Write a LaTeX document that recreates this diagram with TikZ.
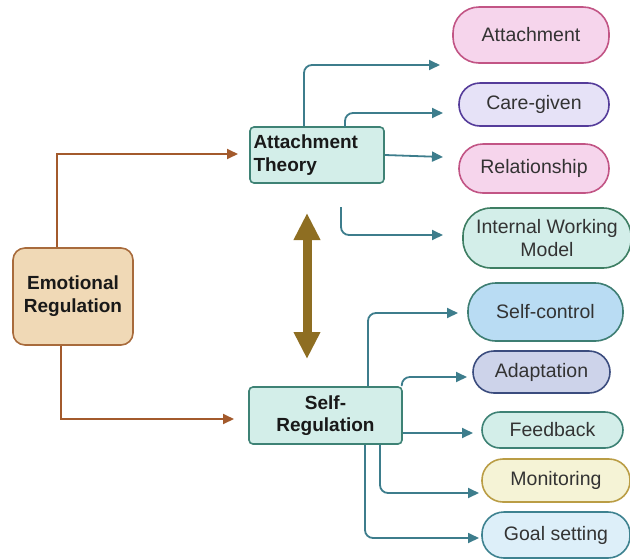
\documentclass[tikz,border=0pt]{standalone}
\usepackage{fontspec}
\setmainfont{Liberation Sans}
\usetikzlibrary{arrows.meta}
\definecolor{tealarr}{HTML}{3D7D8C}
\definecolor{brownarr}{HTML}{A35A2C}
\definecolor{olivearr}{HTML}{8E6E22}
\definecolor{emofill}{HTML}{F0D9B6}
\definecolor{emodraw}{HTML}{A86B3C}
\definecolor{tfill}{HTML}{D3EEE9}
\definecolor{tdraw}{HTML}{3E8275}
\definecolor{pinkfill}{HTML}{F6D5EC}
\definecolor{pinkdraw}{HTML}{C25585}
\definecolor{lavfill}{HTML}{E6E2F7}
\definecolor{lavdraw}{HTML}{553C9A}
\definecolor{iwmdraw}{HTML}{3E7E63}
\definecolor{scfill}{HTML}{B9DCF3}
\definecolor{scdraw}{HTML}{3E7E73}
\definecolor{adfill}{HTML}{CDD3EA}
\definecolor{addraw}{HTML}{3B4C7E}
\definecolor{monfill}{HTML}{F5F3D6}
\definecolor{mondraw}{HTML}{BA9D45}
\definecolor{goalfill}{HTML}{DDEFF9}
\definecolor{goaldraw}{HTML}{3E8290}
\definecolor{txt}{HTML}{333333}
\tikzset{
  mainbox/.style={draw, line width=1.6pt, rounded corners=4pt, inner sep=0pt, font=\bfseries\fontsize{19}{22}\selectfont, text=black!90},
  pill/.style={draw, line width=1.6pt, inner sep=0pt, font=\fontsize{19.5}{24}\selectfont, text=txt, align=center},
  tl/.style={draw=tealarr, line width=1.8pt, rounded corners=8pt, -{Triangle[length=11pt,width=10pt]}},
  bl/.style={draw=brownarr, line width=1.8pt, -{Triangle[length=11pt,width=10pt]}},
}
\begin{document}
\begin{tikzpicture}[x=1pt,y=-1pt]
\useasboundingbox (0,0) rectangle (630,558);
% main boxes
\node[mainbox, fill=emofill, draw=emodraw, rounded corners=12pt, minimum width=120pt, minimum height=97pt, align=center] (emo) at (73,296.5) {Emotional\\[1pt]Regulation};
\node[mainbox, fill=tfill, draw=tdraw, minimum width=134pt, minimum height=56pt, align=left, text width=127pt] (at) at (317,155) {Attachment\\[1.5pt]Theory};
\node[mainbox, fill=tfill, draw=tdraw, minimum width=153pt, minimum height=57pt, align=center] (sr) at (325.5,415.5) {Self-\\[0.5pt]Regulation};
% pills
\node[pill, fill=pinkfill, draw=pinkdraw, minimum width=156pt, minimum height=56pt, rounded corners=26pt] (att) at (531,35) {Attachment};
\node[pill, fill=lavfill, draw=lavdraw, minimum width=150pt, minimum height=43pt, rounded corners=21pt] (care) at (534,104.5) {Care-given};
\node[pill, fill=pinkfill, draw=pinkdraw, minimum width=150pt, minimum height=49pt, rounded corners=24pt] (rel) at (534,168.5) {Relationship};
\node[pill, fill=tfill, draw=iwmdraw, minimum width=168pt, minimum height=60pt, rounded corners=28pt] (iwm) at (547,238) {Internal Working\\[-1pt]Model};
\node[pill, fill=scfill, draw=scdraw, minimum width=155pt, minimum height=58pt, rounded corners=28pt] (sc) at (545.5,312) {Self-control};
\node[pill, fill=adfill, draw=addraw, minimum width=137pt, minimum height=42pt, rounded corners=21pt] (ad) at (541.5,372) {Adaptation};
\node[pill, fill=tfill, draw=tdraw, minimum width=141pt, minimum height=36pt, rounded corners=18pt] (fb) at (552.5,430) {Feedback};
\node[pill, fill=monfill, draw=mondraw, minimum width=148pt, minimum height=43pt, rounded corners=21pt] (mon) at (556,480.5) {Monitoring};
\node[pill, fill=goalfill, draw=goaldraw, minimum width=148pt, minimum height=46pt, rounded corners=22pt] (goal) at (556,535) {Goal setting};
% arrow end coordinates
\coordinate (e1) at (440,65);
\coordinate (e2) at (443,113);
\coordinate (e3) at (443,157);
\coordinate (s4) at (341,207);
\coordinate (e4) at (443,235);
\coordinate (e5) at (458,313);
\coordinate (e6) at (467,377);
\coordinate (e7) at (473,433);
\coordinate (e8) at (479,493);
\coordinate (e9) at (479,538);
\coordinate (b1) at (238,154);
\coordinate (b2) at (234,419);
\coordinate (d1) at (307,213);
\coordinate (d2) at (307,359);
% attachment theory arrows
\draw[tl] ([xshift=-13pt]at.north) |- (e1);
\draw[tl] ([xshift=28pt,yshift=-1pt]at.north) |- (e2);
\draw[tl] (at.east) -- (e3);
\draw[tl] (s4) |- (e4);
% self-regulation arrows
\draw[tl] ([xshift=42.5pt]sr.north) |- (e5);
\draw[tl] ([xshift=-1pt]sr.north east) |- (e6);
\draw[tl] ([yshift=-17.5pt]sr.east) -- (e7);
\draw[tl] ([xshift=54.5pt]sr.south) |- (e8);
\draw[tl] ([xshift=39.5pt]sr.south) |- (e9);
% emotional regulation arrows
\draw[bl] ([xshift=-16pt]emo.north) |- (b1);
\draw[bl] ([xshift=-12pt]emo.south) |- (b2);
% double arrow
\draw[draw=olivearr, line width=9pt, {Triangle[length=27pt,width=25pt,fill=olivearr]}-{Triangle[length=27pt,width=25pt,fill=olivearr]}] (d1) -- (d2);
\end{tikzpicture}
\end{document}
